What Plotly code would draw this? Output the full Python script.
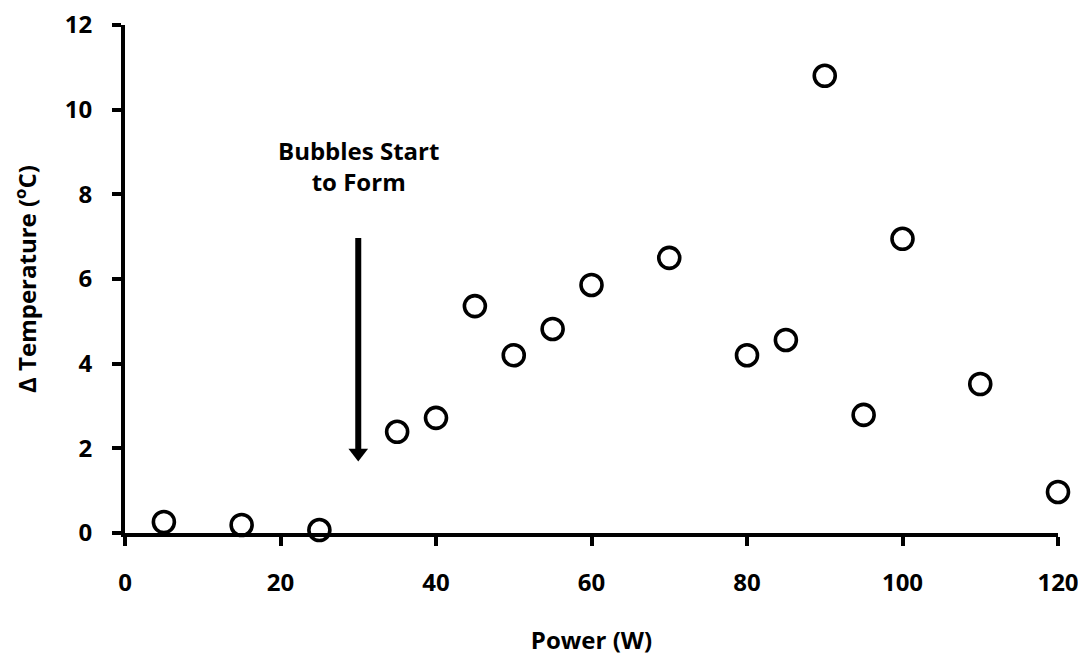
import plotly.graph_objects as go

power = [5, 15, 25, 35, 40, 45, 50, 55, 60, 70, 80, 85, 90, 95, 100, 110, 120]
delta_t = [0.26, 0.19, 0.07, 2.39, 2.72, 5.36, 4.20, 4.82, 5.86, 6.50, 4.20, 4.56, 10.80, 2.79, 6.95, 3.52, 0.97]

x_ticks = [0, 20, 40, 60, 80, 100, 120]
y_ticks = [0, 2, 4, 6, 8, 10, 12]

arrow_x = [30, 30]
arrow_y = [6.97, 1.95]
arrow_head_y = [1.89]

FONT = "Open Sans"

fig = go.Figure()
fig.add_trace(go.Scatter(
    x=power, y=delta_t, mode="markers",
    marker=dict(symbol="circle-open", size=21, color="black", line=dict(width=3.6, color="black")),
    cliponaxis=False, showlegend=False, hoverinfo="x+y",
))

# arrow shaft and head
fig.add_trace(go.Scatter(
    x=arrow_x, y=arrow_y, mode="lines",
    line=dict(color="black", width=6), showlegend=False, hoverinfo="skip",
))
fig.add_trace(go.Scatter(
    x=[arrow_x[0]], y=arrow_head_y, mode="markers",
    marker=dict(symbol="triangle-down", size=17, color="black", line=dict(width=0)),
    showlegend=False, hoverinfo="skip",
))

axis_common = dict(
    showline=True, linecolor="black", linewidth=4,
    ticks="outside", ticklen=9, tickwidth=4, tickcolor="black",
    showgrid=False, zeroline=False, automargin=False,
    ticklabeloverflow="allow",
    tickfont=dict(family=FONT, size=24, color="black", weight="bold"),
)

fig.update_xaxes(
    range=[0, 120], tickvals=x_ticks, ticktext=[str(v) for v in x_ticks],
    title=dict(text="Power (W)", font=dict(family=FONT, size=24, color="black", weight="bold"), standoff=36),
    ticklabelstandoff=16, **axis_common,
)
fig.update_yaxes(
    range=[0, 12], tickvals=y_ticks, ticktext=[str(v) for v in y_ticks],
    title=dict(text="\u0394 Temperature (<sup>o</sup>C)", font=dict(family=FONT, size=24, color="black", weight="bold"), standoff=24),
    ticklabelstandoff=15, **axis_common,
)

fig.add_annotation(
    x=30, y=8.67, xref="x", yref="y", showarrow=False,
    text="Bubbles Start<br>to Form",
    font=dict(family=FONT, size=24, color="black", weight="bold"),
)

# the page body has an 8 px default margin, so the figure is sized to fit the 1086x656 window
fig.update_layout(
    width=1078, height=648,
    margin=dict(l=117, r=28, t=17, b=123),
    plot_bgcolor="white", paper_bgcolor="white",
)

fig.write_html("out.html")
